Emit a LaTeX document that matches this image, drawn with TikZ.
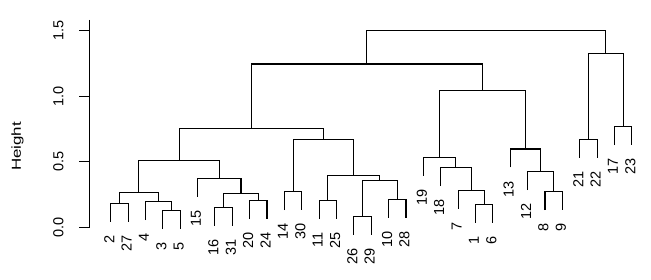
\documentclass[tikz,border=0pt]{standalone}
\usepackage{fontspec}
\setmainfont{Liberation Sans}
\begin{document}
\begin{tikzpicture}[x=1pt,y=-1pt,
  link/.style={line width=1.1pt,black},
  lab/.style={rotate=90,anchor=east,inner sep=0pt,font=\fontsize{14.5}{14.5}\selectfont},
  ticklab/.style={rotate=90,anchor=center,inner sep=0pt,font=\fontsize{14.5}{14.5}\selectfont}]
\useasboundingbox[fill=white] (0,0) rectangle (651,280);
% leaves: name / x / bottom y
\foreach \n/\x/\y in {2/110.70/221.8, 27/128.07/221.8, 4/145.44/220.2, 3/162.81/229.2, 5/180.18/229.2,
  15/197.55/196.8, 16/214.92/225.8, 31/232.29/225.8, 20/249.66/219.2, 24/267.03/219.2,
  14/284.40/210.2, 30/301.77/210.2, 11/319.14/219.2, 25/336.51/219.2, 26/353.88/235.0,
  29/371.25/235.0, 10/388.62/217.8, 28/405.99/217.8, 19/423.36/175.8, 18/440.73/186.2,
  7/458.10/208.8, 1/475.47/222.8, 6/492.84/222.8, 13/510.21/167.5, 12/527.58/190.2,
  8/544.95/210.2, 9/562.32/210.2, 21/579.69/158.0, 22/597.06/158.0, 17/614.43/145.2,
  23/631.80/145.2}{
  \coordinate (L\n) at (\x,\y);
  \node[lab] (T\n) at (\x-1.5,\y+13.3) {\n};
}
% merge points
\coordinate (A) at (119.385,203.3);
\coordinate (B) at (171.495,210.7);
\coordinate (C) at (158.468,201.7);
\coordinate (D) at (138.926,192.7);
\coordinate (E) at (223.605,207.3);
\coordinate (F) at (258.345,200.7);
\coordinate (G) at (240.975,193.3);
\coordinate (H) at (219.263,178.3);
\coordinate (I) at (179.094,160.7);
\coordinate (J) at (293.085,191.7);
\coordinate (K) at (327.825,200.7);
\coordinate (LL) at (362.565,216.5);
\coordinate (M) at (397.305,199.3);
\coordinate (N) at (379.935,180.7);
\coordinate (O) at (353.880,175.7);
\coordinate (P) at (323.483,139.2);
\coordinate (Q) at (251.288,128.3);
\coordinate (R) at (484.155,204.3);
\coordinate (S) at (471.128,190.3);
\coordinate (T) at (455.929,167.7);
\coordinate (U) at (439.645,157.3);
\coordinate (V) at (553.635,191.7);
\coordinate (W) at (540.608,171.7);
\coordinate (X) at (525.409,149.0);
\coordinate (Y) at (482.527,90.7);
\coordinate (Z) at (366.908,64.0);
\coordinate (AA) at (588.375,139.5);
\coordinate (BB) at (623.115,126.7);
\coordinate (CC) at (605.745,53.3);
\coordinate (Root) at (486.327,30.7);
% links
\draw[link] (L2) |- (A) -| (L27);
\draw[link] (L3) |- (B) -| (L5);
\draw[link] (L4) |- (C) -| (B);
\draw[link] (A) |- (D) -| (C);
\draw[link] (L16) |- (E) -| (L31);
\draw[link] (L20) |- (F) -| (L24);
\draw[link] (E) |- (G) -| (F);
\draw[link] (L15) |- (H) -| (G);
\draw[link] (D) |- (I) -| (H);
\draw[link] (L14) |- (J) -| (L30);
\draw[link] (L11) |- (K) -| (L25);
\draw[link] (L26) |- (LL) -| (L29);
\draw[link] (L10) |- (M) -| (L28);
\draw[link] (LL) |- (N) -| (M);
\draw[link] (K) |- (O) -| (N);
\draw[link] (J) |- (P) -| (O);
\draw[link] (I) |- (Q) -| (P);
\draw[link] (L1) |- (R) -| (L6);
\draw[link] (L7) |- (S) -| (R);
\draw[link] (L18) |- (T) -| (S);
\draw[link] (L19) |- (U) -| (T);
\draw[link] (L8) |- (V) -| (L9);
\draw[link] (L12) |- (W) -| (V);
\draw[link] (L13) |- (X) -| (W);
\draw[link] (U) |- (Y) -| (X);
\draw[link] (Q) |- (Z) -| (Y);
\draw[link] (L21) |- (AA) -| (L22);
\draw[link] (L17) |- (BB) -| (L23);
\draw[link] (AA) |- (CC) -| (BB);
\draw[link] (Z) |- (Root) -| (CC);
% axis
\coordinate (axtop) at (89.5,20);
\coordinate (axbot) at (89.5,227.3);
\draw[link] (axtop) -- (axbot);
\foreach \k/\v/\yy in {0/0.0/227.3, 1/0.5/161.8, 2/1.0/96.3, 3/1.5/30.8}{
  \coordinate (tk\k) at (89.5,\yy);
  \coordinate (tl\k) at (79,\yy);
  \draw[link] (tl\k) -- (tk\k);
  \node[ticklab] (lab\k) at (58.5,\yy) {\v};
}
\node[rotate=90,xscale=1.3,inner sep=0pt,font=\fontsize{13}{13}\selectfont] (ylab) at (17.5,146.5) {Height};
\end{tikzpicture}
\end{document}
